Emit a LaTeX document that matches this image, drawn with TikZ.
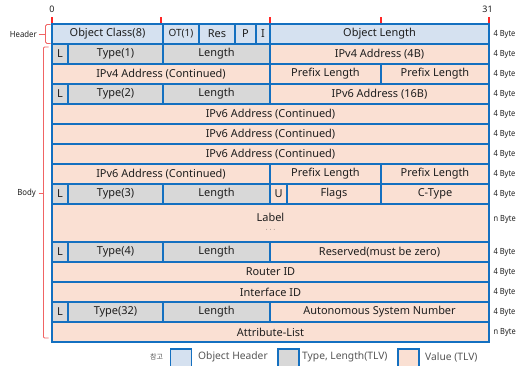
\documentclass[tikz,border=0pt]{standalone}
\usepackage{fontspec}
\setmainfont{Noto Sans}
\newfontfamily\krfont{Noto Sans CJK KR}
\definecolor{bblue}{RGB}{20,112,192}
\definecolor{hdrfill}{RGB}{213,225,240}
\definecolor{tlfill}{RGB}{216,216,216}
\definecolor{valfill}{RGB}{250,224,211}
\definecolor{brk}{RGB}{240,100,100}
\definecolor{txt}{RGB}{30,30,30}
\definecolor{legtxt}{RGB}{85,85,85}
\newcommand\mycell[7]{\node[#2, minimum width={(#5-#3)*1bp}, minimum height={(#6-#4)*1bp}] (#1) at ({(#3+#5)/2},{(#4+#6)/2}) {#7};}
\newcommand\bytelbl[3]{\node[bytestyle] (#1) at (493.5,#2) {#3};}
\begin{document}
\begin{tikzpicture}[x=1bp,y=-1bp,
  cellbase/.style={draw=bblue, line width=1.7bp, inner sep=0pt, text=txt, font=\fontsize{11}{12}\selectfont},
  hdrcell/.style={cellbase, fill=hdrfill},
  tlcell/.style={cellbase, fill=tlfill},
  valcell/.style={cellbase, fill=valfill},
  bytestyle/.style={anchor=west, inner sep=0pt, text=txt, font=\fontsize{8.5}{9}\selectfont, xscale=0.88},
  rulelbl/.style={inner sep=0pt, text=txt, font=\fontsize{9}{10}\selectfont},
  sidelbl/.style={anchor=east, inner sep=0pt, text=txt, font=\fontsize{8.5}{9}\selectfont, xscale=0.92},
  brkline/.style={draw=brk, line width=0.8bp},
  legbox/.style={draw=bblue, line width=1.7bp, minimum width=21bp, minimum height=20bp, inner sep=0pt},
  legtext/.style={anchor=west, inner sep=0pt, text=legtxt, font=\fontsize{10.3}{11}\selectfont}
]
\clip (0,0) rectangle (519,365);
\useasboundingbox (0,0) rectangle (519,365);

% ruler
\node[rulelbl] (r0) at (52,9) {0};
\node[rulelbl] (r31) at (487.5,9) {31};
\foreach \xx/\nm in {52/ta,161/tb,270/tc,381/td,489/te}{
  \coordinate (\nm1) at (\xx,17);
  \coordinate (\nm2) at (\xx,22.5);
  \draw[draw=red!85!white, line width=1.3bp] (\nm1) -- (\nm2);
}

% header
\mycell{oc}{hdrcell}{52}{24}{163}{44}{Object Class(8)}
\mycell{ot}{hdrcell,font=\fontsize{10}{11}\selectfont}{163}{24}{199}{44}{OT(1)}
\mycell{res}{hdrcell}{199}{24}{235}{44}{Res}
\mycell{p}{hdrcell}{235}{24}{256}{44}{P}
\mycell{i}{hdrcell}{256}{24}{270}{44}{I}
\mycell{ol}{hdrcell}{270}{24}{489}{44}{Object Length}

% row 1
\mycell{la}{tlcell}{52}{44}{68}{64}{L}
\mycell{ta}{tlcell}{68}{44}{163}{64}{Type(1)}
\mycell{lena}{tlcell}{163}{44}{270}{64}{Length}
\mycell{vfour}{valcell}{270}{44}{489}{64}{IPv4 Address (4B)}
% row 2
\mycell{vfourc}{valcell}{52}{64}{270}{84}{IPv4 Address (Continued)}
\mycell{pla}{valcell}{270}{64}{381}{84}{Prefix Length}
\mycell{plb}{valcell}{381}{64}{489}{84}{Prefix Length}
% row 3
\mycell{lb}{tlcell}{52}{84}{68}{104}{L}
\mycell{tb}{tlcell}{68}{84}{163}{104}{Type(2)}
\mycell{lenb}{tlcell}{163}{84}{270}{104}{Length}
\mycell{vsix}{valcell}{270}{84}{489}{104}{IPv6 Address (16B)}
% rows 4-6
\mycell{vsixa}{valcell}{52}{104}{489}{124}{IPv6 Address (Continued)}
\mycell{vsixb}{valcell}{52}{124}{489}{144}{IPv6 Address (Continued)}
\mycell{vsixc}{valcell}{52}{144}{489}{164}{IPv6 Address (Continued)}
% row 7
\mycell{vsixd}{valcell}{52}{164}{270}{184}{IPv6 Address (Continued)}
\mycell{plc}{valcell}{270}{164}{381}{184}{Prefix Length}
\mycell{pld}{valcell}{381}{164}{489}{184}{Prefix Length}
% row 8
\mycell{lc}{tlcell}{52}{184}{68}{204}{L}
\mycell{tc}{tlcell}{68}{184}{163}{204}{Type(3)}
\mycell{lenc}{tlcell}{163}{184}{270}{204}{Length}
\mycell{u}{valcell}{270}{184}{287}{204}{U}
\mycell{flags}{valcell}{287}{184}{381}{204}{Flags}
\mycell{ctype}{valcell}{381}{184}{489}{204}{C-Type}
% row 9 label
\mycell{lbl}{valcell,align=center}{52}{204}{489}{242}{Label\\[0pt]\fontsize{7}{7}\selectfont\raisebox{2pt}{$\cdots$}}
% row 10
\mycell{ld}{tlcell}{52}{242}{68}{262}{L}
\mycell{td}{tlcell}{68}{242}{163}{262}{Type(4)}
\mycell{lend}{tlcell}{163}{242}{270}{262}{Length}
\mycell{rsv}{valcell}{270}{242}{489}{262}{Reserved(must be zero)}
% rows 11-12
\mycell{rid}{valcell}{52}{262}{489}{282}{Router ID}
\mycell{iid}{valcell}{52}{282}{489}{302}{Interface ID}
% row 13
\mycell{le}{tlcell}{52}{302}{68}{322}{L}
\mycell{te}{tlcell}{68}{302}{163}{322}{Type(32)}
\mycell{lene}{tlcell}{163}{302}{270}{322}{Length}
\mycell{asn}{valcell}{270}{302}{489}{322}{Autonomous System Number}
% row 14
\mycell{attr}{valcell}{52}{322}{489}{342}{Attribute-List}

% byte labels
\bytelbl{ba}{34}{4 Byte}
\bytelbl{bb}{54}{4 Byte}
\bytelbl{bc}{74}{4 Byte}
\bytelbl{bd}{94}{4 Byte}
\bytelbl{be}{114}{4 Byte}
\bytelbl{bf}{134}{4 Byte}
\bytelbl{bg}{154}{4 Byte}
\bytelbl{bh}{174}{4 Byte}
\bytelbl{bi}{194}{4 Byte}
\bytelbl{bj}{219}{n Byte}
\bytelbl{bk}{252}{4 Byte}
\bytelbl{bl}{272}{4 Byte}
\bytelbl{bm}{292}{4 Byte}
\bytelbl{bn}{312}{4 Byte}
\bytelbl{bo}{332}{n Byte}

% side brackets
\node[sidelbl] (hlab) at (37,34) {Header};
\coordinate (hmid) at (45.5,34);
\coordinate (htop) at (50.5,24.5);
\coordinate (hbot) at (50.5,43.5);
\draw[brkline, rounded corners=1.5bp] (htop) -| (hmid) |- (hbot);
\draw[brkline] (hlab.east) ++(1.5bp,0) -- (hmid);

\node[sidelbl] (blab) at (36,193) {Body};
\coordinate (bmid) at (43.5,193);
\coordinate (btop) at (48.5,47);
\coordinate (bbot) at (48.5,338);
\draw[brkline, rounded corners=1bp] (btop) -| (bmid) |- (bbot);
\draw[brkline] (blab.east) ++(2.5bp,0) -- (bmid);

% legend
\node[inner sep=0pt, text=legtxt, font=\krfont\fontsize{7}{8}\selectfont] (ref) at (156.5,357) {참고};
\node[legbox, fill=hdrfill] (lga) at (181,359) {};
\node[legtext] (lgat) at (198,357) {Object Header};
\node[legbox, fill=tlfill] (lgb) at (288.5,359) {};
\node[legtext] (lgbt) at (302,357) {Type, Length(TLV)};
\node[legbox, fill=valfill] (lgc) at (408.5,359) {};
\node[legtext] (lgct) at (425,357) {Value (TLV)};
\end{tikzpicture}
\end{document}
